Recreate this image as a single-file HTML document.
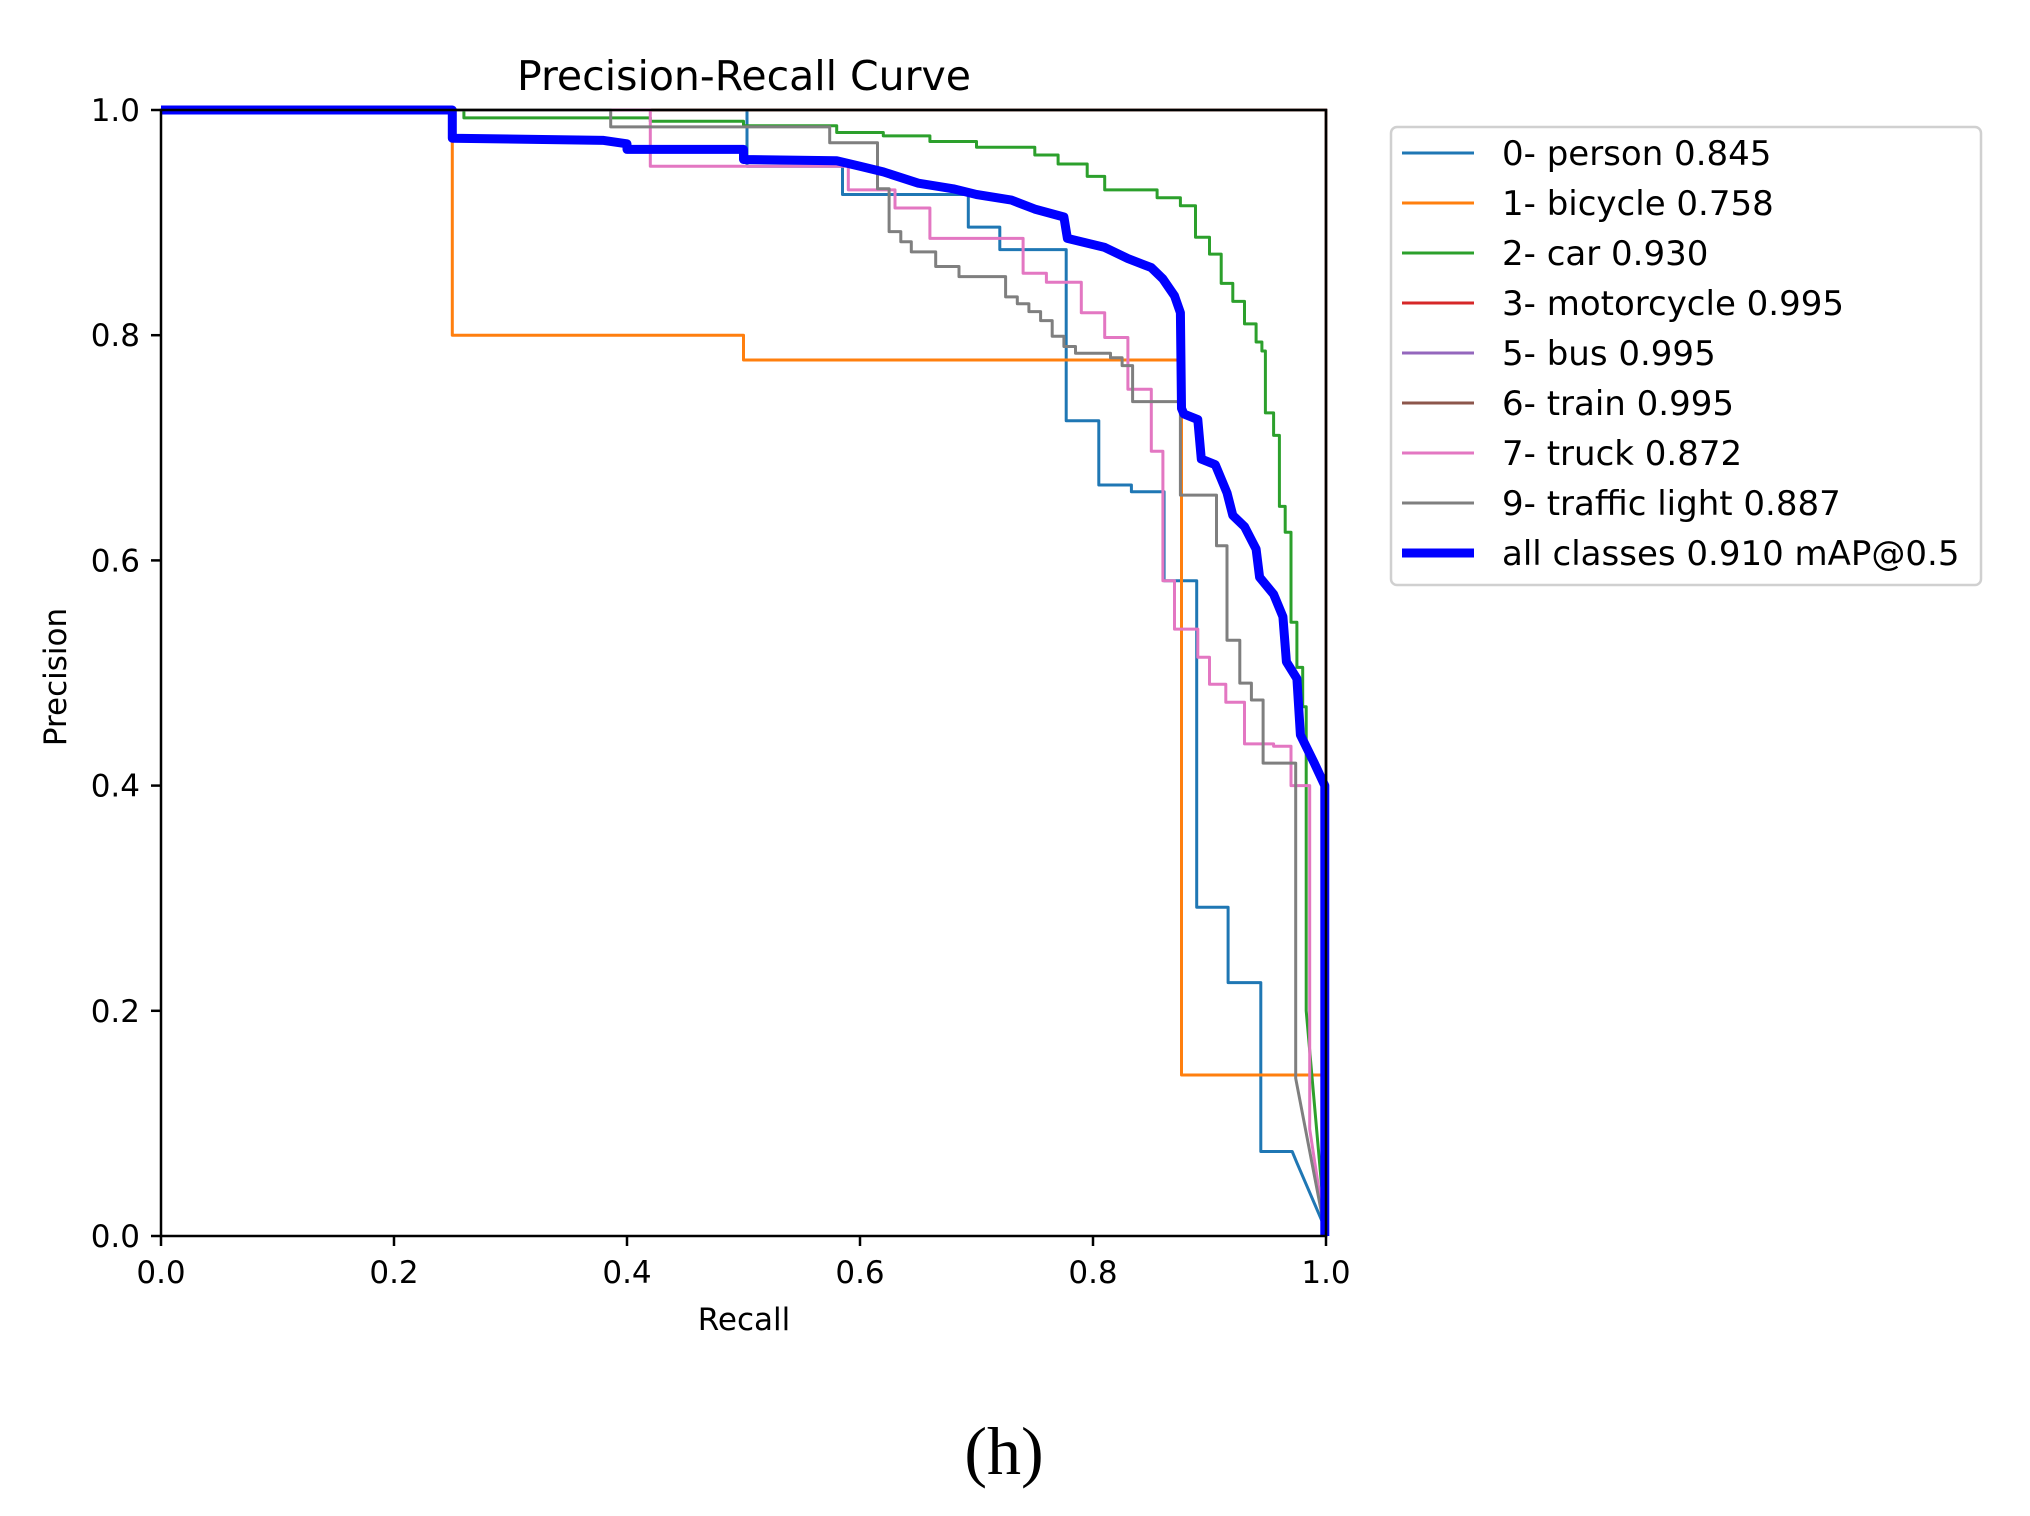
<!DOCTYPE html>
<html><head><meta charset="utf-8"><style>
html,body{margin:0;padding:0;background:#fff;}
svg text{font-family:"DejaVu Sans","Liberation Sans",sans-serif;fill:#000;}
</style></head><body>
<svg id="chart" width="2030" height="1511" viewBox="0 0 2030 1511" xmlns="http://www.w3.org/2000/svg">
<rect x="0" y="0" width="2030" height="1511" fill="#fff"/>
<g id="series"></g>
<g id="axes"></g>
<g id="legend"></g>
<text x="744" y="90" font-size="41" text-anchor="middle">Precision-Recall Curve</text>
<text x="744" y="1330" font-size="31" text-anchor="middle">Recall</text>
<text x="0" y="0" font-size="31" text-anchor="middle" transform="translate(66,677) rotate(-90)">Precision</text>
<text x="1004" y="1474" font-size="68" text-anchor="middle" style="font-family:'Liberation Serif',serif">(h)</text>
</svg>
<script>
const xTicks=[0,0.2,0.4,0.6,0.8,1.0];
const yTicks=[0,0.2,0.4,0.6,0.8,1.0];
const tickLabels=["0.0","0.2","0.4","0.6","0.8","1.0"];
const names=["0- person 0.845","1- bicycle 0.758","2- car 0.930","3- motorcycle 0.995","5- bus 0.995","6- train 0.995","7- truck 0.872","9- traffic light 0.887","all classes 0.910 mAP@0.5"];
const colors=["#1f77b4","#ff7f0e","#2ca02c","#d62728","#9467bd","#8c564b","#e377c2","#7f7f7f","#0000ff"];
const personR=[0,0.503,0.503,0.585,0.585,0.693,0.693,0.72,0.72,0.777,0.777,0.805,0.805,0.833,0.833,0.861,0.861,0.889,0.889,0.916,0.916,0.944,0.944,0.971,0.975,1.0];
const personP=[1,1,0.95,0.95,0.925,0.925,0.896,0.896,0.876,0.876,0.724,0.724,0.667,0.667,0.661,0.661,0.582,0.582,0.292,0.292,0.225,0.225,0.075,0.075,0.065,0.005];
const bicycleR=[0,0.25,0.25,0.5,0.5,0.876,0.876,0.998,1.0];
const bicycleP=[1,1,0.8,0.8,0.778,0.778,0.143,0.143,0];
const carR=[0,0.26,0.26,0.42,0.42,0.5,0.5,0.58,0.58,0.62,0.62,0.66,0.66,0.7,0.7,0.75,0.75,0.77,0.77,0.795,0.795,0.81,0.81,0.855,0.855,0.875,0.875,0.888,0.888,0.9,0.9,0.91,0.91,0.92,0.92,0.93,0.93,0.94,0.94,0.945,0.945,0.948,0.948,0.955,0.955,0.96,0.96,0.965,0.965,0.97,0.97,0.975,0.975,0.98,0.98,0.983,0.983,1.0];
const carP=[1,1,0.993,0.993,0.99,0.99,0.986,0.986,0.98,0.98,0.977,0.977,0.972,0.972,0.967,0.967,0.96,0.96,0.952,0.952,0.941,0.941,0.929,0.929,0.922,0.922,0.915,0.915,0.887,0.887,0.872,0.872,0.846,0.846,0.83,0.83,0.81,0.81,0.794,0.794,0.786,0.786,0.731,0.731,0.711,0.711,0.648,0.648,0.625,0.625,0.545,0.545,0.505,0.505,0.47,0.47,0.2,0];
const motoR=[0,1.0,1.0];
const motoP=[1,1,0];
const busR=[0,1.0,1.0];
const busP=[1,1,0];
const trainR=[0,1.0,1.0];
const trainP=[1,1,0];
const truckR=[0,0.42,0.42,0.59,0.59,0.63,0.63,0.66,0.66,0.74,0.74,0.76,0.76,0.79,0.79,0.81,0.81,0.83,0.83,0.85,0.85,0.86,0.86,0.87,0.87,0.89,0.89,0.9,0.9,0.914,0.914,0.93,0.93,0.955,0.955,0.97,0.97,0.986,0.986,1.0];
const truckP=[1,1,0.95,0.95,0.929,0.929,0.913,0.913,0.886,0.886,0.855,0.855,0.847,0.847,0.82,0.82,0.798,0.798,0.752,0.752,0.697,0.697,0.582,0.582,0.539,0.539,0.514,0.514,0.49,0.49,0.474,0.474,0.437,0.437,0.435,0.435,0.4,0.4,0.095,0];
const lightR=[0,0.386,0.386,0.574,0.574,0.615,0.615,0.625,0.625,0.635,0.635,0.644,0.644,0.665,0.665,0.685,0.685,0.725,0.725,0.735,0.735,0.745,0.745,0.755,0.755,0.765,0.765,0.775,0.775,0.785,0.785,0.815,0.815,0.825,0.825,0.834,0.834,0.875,0.875,0.906,0.906,0.915,0.915,0.926,0.926,0.936,0.936,0.946,0.946,0.957,0.957,0.974,0.974,1.0];
const lightP=[1,1,0.985,0.985,0.971,0.971,0.93,0.93,0.892,0.892,0.883,0.883,0.874,0.874,0.861,0.861,0.852,0.852,0.834,0.834,0.828,0.828,0.821,0.821,0.813,0.813,0.799,0.799,0.79,0.79,0.784,0.784,0.78,0.78,0.773,0.773,0.741,0.741,0.658,0.658,0.613,0.613,0.529,0.529,0.491,0.491,0.476,0.476,0.42,0.42,0.42,0.42,0.14,0];
const allR=[0,0.25,0.25,0.38,0.4,0.4,0.5,0.5,0.58,0.6,0.62,0.65,0.68,0.7,0.73,0.75,0.775,0.778,0.81,0.83,0.85,0.86,0.87,0.875,0.876,0.878,0.89,0.893,0.905,0.915,0.92,0.93,0.94,0.943,0.955,0.963,0.966,0.975,0.978,0.99,0.999,0.999];
const allP=[1,1,0.975,0.973,0.97,0.965,0.965,0.956,0.955,0.95,0.945,0.935,0.93,0.925,0.92,0.912,0.905,0.886,0.878,0.868,0.86,0.85,0.835,0.82,0.735,0.73,0.725,0.69,0.685,0.66,0.64,0.63,0.61,0.585,0.57,0.55,0.51,0.495,0.445,0.42,0.40,0];
const seriesR=[personR,bicycleR,carR,motoR,busR,trainR,truckR,lightR,allR];
const seriesP=[personP,bicycleP,carP,motoP,busP,trainP,truckP,lightP,allP];
const seriesNames=["series-person","series-bicycle","series-car","series-motorcycle","series-bus","series-train","series-truck","series-traffic-light","series-all-classes"];

const L=161,T=110,R=1326,B=1236;
const NS="http://www.w3.org/2000/svg";
function sx(v){return L+v*(R-L);}
function sy(v){return B-v*(B-T);}
function mk(tag,attrs,parent){const e=document.createElementNS(NS,tag);for(const k in attrs)e.setAttribute(k,attrs[k]);parent.appendChild(e);return e;}

const sg=document.getElementById('series');
for(let i=0;i<seriesR.length;i++){
  const pts=seriesR[i].map((r,j)=>sx(r).toFixed(1)+','+sy(seriesP[i][j]).toFixed(1)).join(' ');
  const pl=mk('polyline',{points:pts,fill:'none',stroke:colors[i],'stroke-width':i===8?9:3,'stroke-linejoin':'round'},sg);
  
  
}

const ag=document.getElementById('axes');
const fr=mk('rect',{x:L,y:T,width:R-L,height:B-T,fill:'none',stroke:'#000','stroke-width':2.5},ag);


for(let i=0;i<xTicks.length;i++){
  const x=sx(xTicks[i]);
  const t=mk('line',{x1:x,y1:B,x2:x,y2:B+10,stroke:'#000','stroke-width':2.5},ag);
  
  
  const tx=mk('text',{x:x,y:B+47,'font-size':31,'text-anchor':'middle'},ag);
  tx.textContent=tickLabels[i];
  
  
}
for(let i=0;i<yTicks.length;i++){
  const y=sy(yTicks[i]);
  const t=mk('line',{x1:L-10,y1:y,x2:L,y2:y,stroke:'#000','stroke-width':2.5},ag);
  
  
  const tx=mk('text',{x:L-21,y:y+11,'font-size':31,'text-anchor':'end'},ag);
  tx.textContent=tickLabels[i];
  
  
}

const lg=document.getElementById('legend');
const box=mk('rect',{x:1391,y:127,width:590,height:458,rx:6,fill:'#fff',stroke:'#d0d0d0','stroke-width':2.5},lg);


for(let i=0;i<names.length;i++){
  const y=153+i*50;
  const ln=mk('line',{x1:1402,y1:y,x2:1474,y2:y,stroke:colors[i],'stroke-width':i===8?9:3},lg);
  
  
  const tx=mk('text',{x:1502,y:y+12,'font-size':34,textLength:0},lg);
  tx.removeAttribute('textLength');
  tx.textContent=names[i];
  
  
}
</script>
</body></html>
